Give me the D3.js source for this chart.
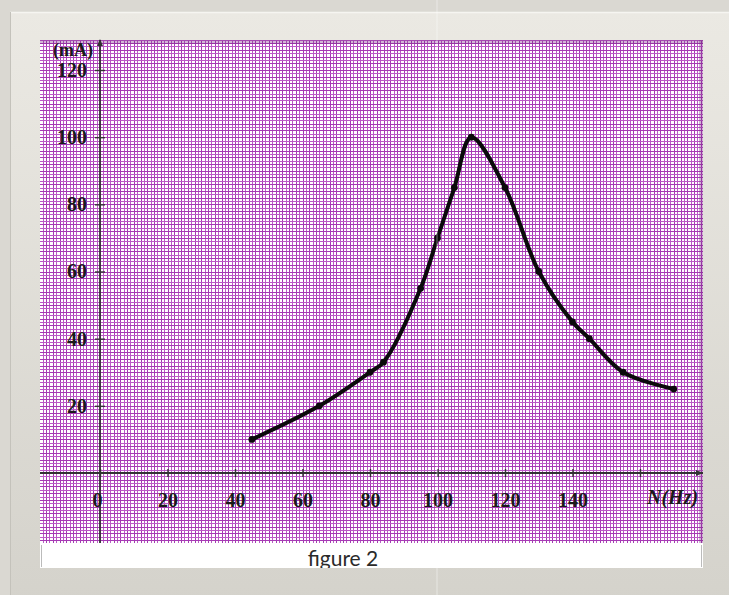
<!DOCTYPE html>
<html><head><meta charset="utf-8">
<script src="https://cdn.jsdelivr.net/npm/d3@7"></script>
<style>html,body{margin:0;padding:0;overflow:hidden;background:#dcdad4}</style>
</head><body><svg id="c" width="729" height="595"></svg>
<script>
const freq    = [45, 65, 80, 84, 95, 100, 105, 110, 120, 130, 140, 145, 155, 170];
const current = [10, 20, 30, 33, 55, 70,  85,  100, 85,  60,  45,  40,  30,  25];
const xTicks = [0, 20, 40, 60, 80, 100, 120, 140, 160];
const xTickLabels = ["0", "20", "40", "60", "80", "100", "120", "140", ""];
const yTicks = [20, 40, 60, 80, 100, 120];
const xAxisTitle = "N(Hz)";
const yAxisTitle = "(mA)";
const caption = "figure 2";

const svg = d3.select("#c");
const defs = svg.append("defs");
const g1 = defs.append("linearGradient").attr("id","panel").attr("x1",0).attr("y1",0).attr("x2",0).attr("y2",1);
g1.append("stop").attr("offset","0%").attr("stop-color","#ebe9e3");
g1.append("stop").attr("offset","100%").attr("stop-color","#d4d2cb");
defs.append("clipPath").attr("id","gridclip").append("rect").attr("x",40).attr("y",40).attr("width",663).attr("height",503);
defs.append("clipPath").attr("id","capclip").append("rect").attr("x",40).attr("y",543).attr("width",663).attr("height",25);

// background & panel
svg.append("rect").attr("width",729).attr("height",595).attr("fill","#dad8d2");
svg.append("rect").attr("x",10).attr("y",12).attr("width",730).attr("height",600).attr("fill","url(#panel)");
svg.append("line").attr("x1",10).attr("x2",740).attr("y1",12.5).attr("y2",12.5).attr("stroke","#f6f5f1").attr("stroke-width",1.5);
svg.append("line").attr("x1",10.5).attr("x2",10.5).attr("y1",12).attr("y2",595).attr("stroke","#c4c2bb").attr("stroke-width",1);

const x = d3.scaleLinear().domain([0,160]).range([100,640]);
const y = d3.scaleLinear().domain([0,120]).range([473,70]);

// grid paper
const grid = svg.append("g").attr("clip-path","url(#gridclip)");
grid.append("rect").attr("x",40).attr("y",40).attr("width",663).attr("height",503).attr("fill","#ffffff");
const gx = d3.range(-18, 180);
const gy = d3.range(-21, 130);
const gl = grid.append("g").attr("shape-rendering","crispEdges");
gl.selectAll("line.vx").data(gx).join("line")
  .attr("x1",d=>Math.round(x(d))+0.5).attr("x2",d=>Math.round(x(d))+0.5).attr("y1",40).attr("y2",543)
  .attr("stroke",d=>d%2===0?"#a53ab3":"#bb5ac6").attr("stroke-width",1);
gl.selectAll("line.hy").data(gy).join("line")
  .attr("y1",d=>Math.round(y(d))+0.5).attr("y2",d=>Math.round(y(d))+0.5).attr("x1",40).attr("x2",703)
  .attr("stroke",d=>d%2===0?"#a53ab3":"#bb5ac6").attr("stroke-width",1);
grid.append("rect").attr("x",40).attr("y",40).attr("width",663).attr("height",4).attr("fill","#7a2a88").attr("opacity",0.35);
grid.append("rect").attr("x",699).attr("y",40).attr("width",4).attr("height",503).attr("fill","#7a2a88").attr("opacity",0.35);

// axes lines
const axisColor = "#333333";
svg.append("line").attr("x1",40).attr("x2",703).attr("y1",y(0)).attr("y2",y(0)).attr("stroke",axisColor).attr("stroke-width",1.8);
svg.append("line").attr("x1",x(0)).attr("x2",x(0)).attr("y1",40).attr("y2",543).attr("stroke",axisColor).attr("stroke-width",1.8);
svg.append("path").attr("d",`M${x(0)-3},46 L${x(0)},39 L${x(0)+3},46 Z`).attr("fill",axisColor);
svg.append("path").attr("d",`M696,${y(0)-3} L703,${y(0)} L696,${y(0)+3} Z`).attr("fill",axisColor);

const fontSerif = "'Liberation Serif','Times New Roman',serif";
// x axis
const xAxis = svg.append("g").attr("transform",`translate(0,${y(0)})`)
  .call(d3.axisBottom(x).tickValues(xTicks).tickSize(4).tickPadding(16).tickFormat((d,i)=>xTickLabels[i]));
xAxis.select(".domain").remove();
xAxis.selectAll(".tick line").attr("y1",-4).attr("y2",4).attr("stroke",axisColor).attr("stroke-width",1.4);
xAxis.selectAll(".tick text").attr("font-family",fontSerif).attr("font-size",20).attr("font-weight","bold").attr("fill","#1a1a1a")
  .attr("dx",(d)=>d===0?-3:0);
svg.append("text").attr("x",647).attr("y",y(0)+31).attr("font-family",fontSerif).attr("font-size",20).attr("font-style","italic")
  .attr("font-weight","bold").attr("fill","#1a1a1a").attr("clip-path","url(#gridclip)").text(xAxisTitle);

// y axis
const yAxis = svg.append("g").attr("transform",`translate(${x(0)},0)`)
  .call(d3.axisLeft(y).tickValues(yTicks).tickSize(5).tickPadding(8));
yAxis.select(".domain").remove();
yAxis.selectAll(".tick line").attr("x1",-5).attr("x2",5).attr("stroke",axisColor).attr("stroke-width",1.4);
yAxis.selectAll(".tick text").attr("font-family",fontSerif).attr("font-size",20).attr("font-weight","bold").attr("fill","#1a1a1a");
svg.append("text").attr("x",93).attr("y",56).attr("text-anchor","end").attr("font-family",fontSerif).attr("font-size",18)
  .attr("font-weight","bold").attr("fill","#1a1a1a").attr("clip-path","url(#gridclip)").text(yAxisTitle);

// curve
const pts = freq.map((f,i)=>[f,current[i]]);
const line = d3.line().x(d=>x(d[0])).y(d=>y(d[1])).curve(d3.curveCatmullRom.alpha(0.5));
svg.append("path").datum(pts).attr("d",line).attr("fill","none").attr("stroke","#0a0a0a").attr("stroke-width",4)
  .attr("stroke-linejoin","round").attr("stroke-linecap","round");
svg.selectAll("circle.pt").data(pts).join("circle").attr("cx",d=>x(d[0])).attr("cy",d=>y(d[1])).attr("r",3.4).attr("fill","#0a0a0a");

// caption strip
svg.append("rect").attr("x",40).attr("y",543).attr("width",663).attr("height",25).attr("fill","#ffffff");
svg.append("line").attr("x1",41.5).attr("x2",41.5).attr("y1",545).attr("y2",567).attr("stroke","#bbb");
svg.append("line").attr("x1",701.5).attr("x2",701.5).attr("y1",545).attr("y2",567).attr("stroke","#bbb");
svg.append("text").attr("x",343).attr("y",566).attr("text-anchor","middle").attr("font-family","Lato,'Open Sans',sans-serif")
  .attr("font-size",21).attr("fill","#2a2a2a").attr("clip-path","url(#capclip)").text(caption);

// image seam
svg.append("line").attr("x1",437).attr("x2",437).attr("y1",0).attr("y2",595).attr("stroke","#ffffff").attr("stroke-opacity",0.45).attr("stroke-width",1);
</script></body></html>
